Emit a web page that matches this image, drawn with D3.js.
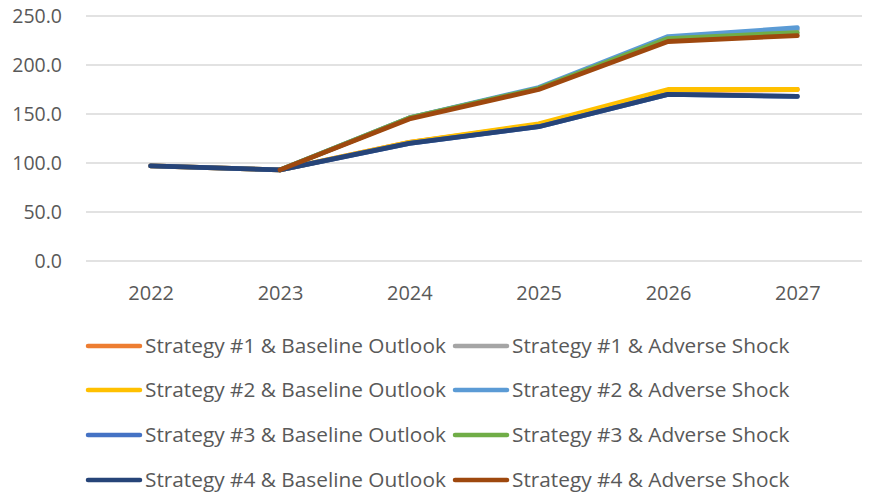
<!DOCTYPE html>
<html>
<head>
<meta charset="utf-8">
<script src="https://cdn.jsdelivr.net/npm/d3@7"></script>
<style>
  body { margin: 0; background: #fff; }
  text { font-family: "Open Sans", "Liberation Sans", sans-serif; fill: #595959; }
</style>
</head>
<body>
<svg id="chart"></svg>
<script>
const width = 869;
const height = 497;

const years = ["2022", "2023", "2024", "2025", "2026", "2027"];
const yTicks = [0, 50, 100, 150, 200, 250];

// series values (null = no point)
const s1Baseline = [97, 93, 121, 139, 174, 175];
const s1Adverse  = [null, 93, 146, 176, 227, 236];
const s2Baseline = [97, 93, 121, 140, 175, 175];
const s2Adverse  = [null, 93, 146, 177, 229, 238];
const s3Baseline = [97, 93, 120, 137, 170, 168];
const s3Adverse  = [null, 93, 146, 176, 227, 233];
const s4Baseline = [97, 93, 120, 137, 170, 168];
const s4Adverse  = [null, 93, 145, 175, 224, 230];

const seriesNames = [
    "Strategy #1 & Baseline Outlook", "Strategy #1 & Adverse Shock",
    "Strategy #2 & Baseline Outlook", "Strategy #2 & Adverse Shock",
    "Strategy #3 & Baseline Outlook", "Strategy #3 & Adverse Shock",
    "Strategy #4 & Baseline Outlook", "Strategy #4 & Adverse Shock"
];
const seriesColors = ["#ED7D31", "#A5A5A5", "#FFC000", "#5B9BD5", "#4472C4", "#70AD47", "#264478", "#9E480E"];
const seriesValues = [s1Baseline, s1Adverse, s2Baseline, s2Adverse, s3Baseline, s3Adverse, s4Baseline, s4Adverse];

const margin = { left: 86, right: 7, top: 16, bottom: 236 };

const svg = d3.select("#chart")
    .attr("width", width)
    .attr("height", height);

const x = d3.scalePoint()
    .domain(years)
    .range([margin.left, width - margin.right])
    .padding(0.5);

const y = d3.scaleLinear()
    .domain([0, 250])
    .range([height - margin.bottom, margin.top]);

// gridlines
svg.append("g")
    .selectAll("line")
    .data(yTicks)
    .enter().append("line")
    .attr("x1", margin.left)
    .attr("x2", width - margin.right)
    .attr("y1", d => y(d))
    .attr("y2", d => y(d))
    .attr("stroke", "#d9d9d9")
    .attr("stroke-width", 1.3);

// y axis labels
const yAxis = svg.append("g")
    .attr("transform", `translate(${margin.left},0)`)
    .call(d3.axisLeft(y).tickValues(yTicks).tickFormat(d3.format(".1f")).tickSize(0).tickPadding(24));
yAxis.select(".domain").remove();
yAxis.selectAll("text").attr("font-size", 19.5).style("font-family", null);

// x axis labels
const xAxis = svg.append("g")
    .attr("transform", `translate(0,${y(0)})`)
    .call(d3.axisBottom(x).tickSize(0).tickPadding(25));
xAxis.select(".domain").remove();
xAxis.selectAll("text").attr("font-size", 20).style("font-family", null);

// lines
const line = d3.line()
    .defined(d => d.v != null)
    .x(d => x(d.year))
    .y(d => y(d.v));

seriesValues.forEach((vals, i) => {
    svg.append("path")
        .datum(vals.map((v, j) => ({ year: years[j], v: v })))
        .attr("fill", "none")
        .attr("stroke", seriesColors[i])
        .attr("stroke-width", 4.8)
        .attr("stroke-linecap", "round")
        .attr("stroke-linejoin", "round")
        .attr("d", line);
});

// legend
const legendX = [86, 453];
const legendY = [346, 390, 435, 480];
const legend = svg.append("g");
seriesNames.forEach((name, i) => {
    const lx = legendX[i % 2];
    const ly = legendY[Math.floor(i / 2)];
    legend.append("line")
        .attr("x1", lx + 2).attr("x2", lx + 54)
        .attr("y1", ly).attr("y2", ly)
        .attr("stroke", seriesColors[i])
        .attr("stroke-width", 4.5)
        .attr("stroke-linecap", "round");
    legend.append("text")
        .attr("x", lx + 59)
        .attr("y", ly)
        .attr("dy", "0.35em")
        .attr("font-size", 20.8)
        .text(name);
});
</script>
</body>
</html>
